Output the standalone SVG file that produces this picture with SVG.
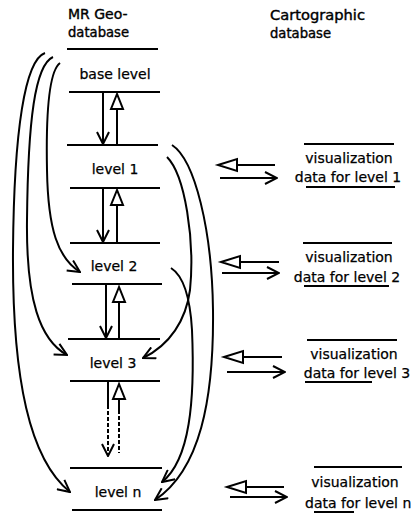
<svg xmlns="http://www.w3.org/2000/svg" width="414" height="514" viewBox="0 0 414 514">
<style>
text{font-family:"DejaVu Sans","Liberation Sans",sans-serif;font-size:14px;fill:#000;stroke:#000;stroke-width:0.25}
.hd{font-size:14px;stroke-width:0.4}
.ln{stroke:#000;stroke-width:2;fill:none}
.cv{stroke:#000;stroke-width:2;fill:none}
.hol{fill:#fff;stroke:#000;stroke-width:2;stroke-linejoin:miter}
.dash{stroke-dasharray:4 2}
</style>
<defs>
<marker id="v" viewBox="0 0 14 14" refX="13" refY="7" markerWidth="14" markerHeight="14" markerUnits="userSpaceOnUse" orient="auto">
<path d="M1,1 L13,7 L1,13" fill="none" stroke="#000" stroke-width="2"/>
</marker>
</defs>
<rect width="414" height="514" fill="#fff"/>

<g id="header-mr">
<text class="hd" x="68" y="19">MR  Geo-</text>
<text class="hd" x="68" y="37" textLength="61" lengthAdjust="spacingAndGlyphs">database</text>
<line class="ln" x1="67" y1="49" x2="158" y2="49"/>
</g>
<g id="header-carto">
<text class="hd" x="270" y="20" textLength="95" lengthAdjust="spacingAndGlyphs">Cartographic</text>
<text class="hd" x="270" y="38" textLength="61" lengthAdjust="spacingAndGlyphs">database</text>
</g>

<g id="base-level">
<text x="115" y="79" text-anchor="middle">base level</text>
<line class="ln" x1="69" y1="92" x2="160" y2="92"/>
</g>
<g id="level-1">
<line class="ln" x1="67" y1="145" x2="158" y2="145"/>
<text x="115" y="174" text-anchor="middle">level  1</text>
<line class="ln" x1="70" y1="188" x2="160" y2="188"/>
</g>
<g id="level-2">
<line class="ln" x1="70" y1="243" x2="160" y2="243"/>
<text x="114" y="271" text-anchor="middle">level  2</text>
<line class="ln" x1="72" y1="284" x2="162" y2="284"/>
</g>
<g id="level-3">
<line class="ln" x1="68" y1="339" x2="160" y2="339"/>
<text x="113" y="368" text-anchor="middle">level  3</text>
<line class="ln" x1="70" y1="381" x2="160" y2="381"/>
</g>
<g id="level-n">
<line class="ln" x1="70" y1="468" x2="162" y2="468"/>
<text x="118" y="497" text-anchor="middle">level  n</text>
<line class="ln" x1="72" y1="510" x2="162" y2="510"/>
</g>

<g id="vis-1">
<line class="ln" x1="304" y1="144" x2="394" y2="144"/>
<text x="349" y="163" text-anchor="middle">visualization</text>
<text x="348" y="182" text-anchor="middle">data for level 1</text>
<line class="ln" x1="306" y1="187" x2="395" y2="187"/>
</g>
<g id="vis-2">
<line class="ln" x1="303" y1="243" x2="392" y2="243"/>
<text x="349" y="262" text-anchor="middle">visualization</text>
<text x="347" y="282" text-anchor="middle">data for level 2</text>
<line class="ln" x1="304" y1="286" x2="389" y2="286"/>
</g>
<g id="vis-3">
<line class="ln" x1="307" y1="340" x2="397" y2="340"/>
<text x="354" y="359" text-anchor="middle">visualization</text>
<text x="357" y="378" text-anchor="middle">data for level 3</text>
<line class="ln" x1="305" y1="382" x2="372" y2="382"/>
</g>
<g id="vis-n">
<line class="ln" x1="314" y1="467" x2="402" y2="467"/>
<text x="355" y="487" text-anchor="middle">visualization</text>
<text x="305" y="508">data for level n</text>
<line class="ln" x1="314" y1="512" x2="354" y2="512"/>
</g>

<g id="connectors">
<line class="ln" x1="103" y1="92" x2="103" y2="144" marker-end="url(#v)"/>
<line class="ln" x1="117" y1="145" x2="117" y2="108"/>
<polygon class="hol" points="117,94 111,109 123,109"/>

<line class="ln" x1="103" y1="188" x2="103" y2="242" marker-end="url(#v)"/>
<line class="ln" x1="117" y1="243" x2="117" y2="204"/>
<polygon class="hol" points="117,190 111,205 123,205"/>

<line class="ln" x1="106" y1="284" x2="106" y2="338" marker-end="url(#v)"/>
<line class="ln" x1="119" y1="339" x2="119" y2="302"/>
<polygon class="hol" points="119,287 113,302 125,302"/>

<line class="ln" x1="108" y1="381" x2="108" y2="405"/>
<line class="ln dash" x1="108" y1="405" x2="108" y2="456" marker-end="url(#v)"/>
<line class="ln" x1="119" y1="398" x2="119" y2="410"/>
<line class="ln dash" x1="119" y1="410" x2="119" y2="453"/>
<polygon class="hol" points="119,384 113,399 125,399"/>

<path class="cv" d="M60,63 C48,72 46,120 47,170 C48,230 58,258 80,272" marker-end="url(#v)"/>
<path class="cv" d="M53,57 C35,65 28,120 27,220 C26,300 40,340 67,355" marker-end="url(#v)"/>
<path class="cv" d="M45,53 C25,60 14,130 13,250 C12,380 30,460 70,492" marker-end="url(#v)"/>

<path class="cv" d="M172,145 C195,160 212,230 213,310 C214,400 200,470 155,500" marker-end="url(#v)"/>
<path class="cv" d="M167,157 C185,175 195,240 190,290 C186,320 170,345 143,358" marker-end="url(#v)"/>
<path class="cv" d="M171,268 C182,275 190,295 192,330 C195,400 190,460 162,482" marker-end="url(#v)"/>

<line class="ln" x1="237" y1="165" x2="275" y2="165"/>
<polygon class="hol" points="218,165 237,159 237,171"/>
<line class="ln" x1="220" y1="178" x2="277" y2="178" marker-end="url(#v)"/>

<line class="ln" x1="240" y1="262" x2="279" y2="262"/>
<polygon class="hol" points="221,262 240,256 240,268"/>
<line class="ln" x1="222" y1="273" x2="279" y2="273" marker-end="url(#v)"/>

<line class="ln" x1="243" y1="357" x2="282" y2="357"/>
<polygon class="hol" points="224,357 243,351 243,363"/>
<line class="ln" x1="227" y1="372" x2="285" y2="372" marker-end="url(#v)"/>

<line class="ln" x1="246" y1="487" x2="284" y2="487"/>
<polygon class="hol" points="227,487 246,481 246,493"/>
<line class="ln" x1="230" y1="497" x2="287" y2="497" marker-end="url(#v)"/>
</g>
</svg>
